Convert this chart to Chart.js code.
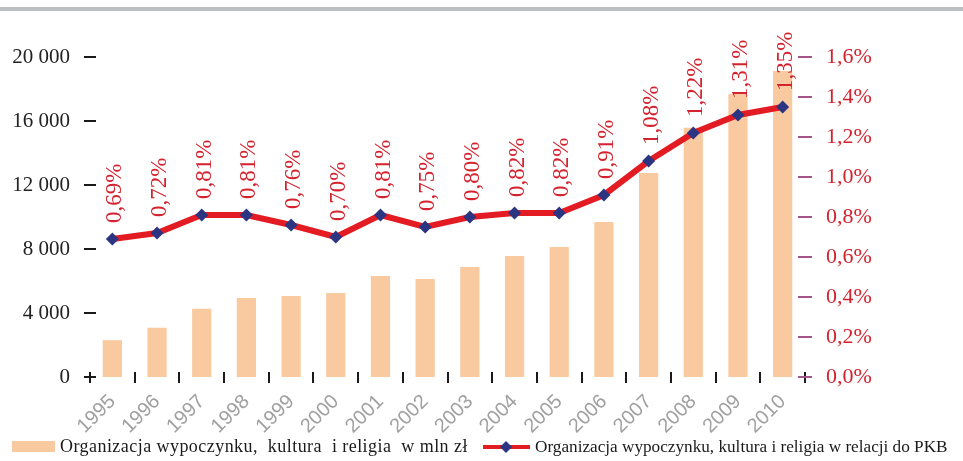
<!DOCTYPE html>
<html>
<head>
<meta charset="utf-8">
<script src="https://cdn.jsdelivr.net/npm/chart.js@4/dist/chart.umd.min.js"></script>
<style>
  html, body { margin: 0; padding: 0; background: #fff; }
</style>
</head>
<body>
<canvas id="chart" width="963" height="461"></canvas>
<script>
// Data
var years = ['1995', '1996', '1997', '1998', '1999', '2000', '2001', '2002',
             '2003', '2004', '2005', '2006', '2007', '2008', '2009', '2010'];
var amounts = [2300, 3080, 4270, 4940, 5060, 5250, 6310, 6120,
               6880, 7560, 8130, 9690, 12750, 15580, 17690, 19130];
var shares = [0.69, 0.72, 0.81, 0.81, 0.76, 0.70, 0.81, 0.75,
              0.80, 0.82, 0.82, 0.91, 1.08, 1.22, 1.31, 1.35];
var amountTicks = ['0', '4 000', '8 000', '12 000', '16 000', '20 000'];
var shareTicks = ['0,0%', '0,2%', '0,4%', '0,6%', '0,8%', '1,0%', '1,2%', '1,4%', '1,6%'];
var barLabel = 'Organizacja wypoczynku,  kultura  i religia  w mln zł';
var lineLabel = 'Organizacja wypoczynku, kultura i religia w relacji do PKB';

// Colours
var barColor = '#f9c9a0';
var lineColor = '#e31b23';
var markerColor = '#2b3582';
var textRed = '#d4222e';
var serif = '"Liberation Serif", "DejaVu Serif", serif';

function fmtShare(v) {
  return v.toFixed(2).replace('.', ',') + '%';
}

// Grey rule on top
var topRule = {
  id: 'topRule',
  beforeDraw: function(chart) {
    var ctx = chart.ctx;
    ctx.save();
    ctx.fillStyle = '#bdbec0';
    ctx.fillRect(0, 7, chart.width, 4);
    ctx.restore();
  }
};

// Cross tick marks on all three axes
var tickMarks = {
  id: 'tickMarks',
  afterDraw: function(chart) {
    var ctx = chart.ctx, area = chart.chartArea;
    var x = chart.scales.x, y = chart.scales.y, y1 = chart.scales.y1;
    function seg(x0, y0, x2, y2) {
      ctx.beginPath(); ctx.moveTo(x0, y0); ctx.lineTo(x2, y2); ctx.stroke();
    }
    ctx.save();
    ctx.lineWidth = 2;
    ctx.strokeStyle = '#1a1a1a';
    y.ticks.forEach(function(t) {
      var py = Math.round(y.getPixelForValue(t.value));
      seg(area.left - 6, py, area.left + 6, py);
    });
    var step = x.getPixelForValue(1) - x.getPixelForValue(0);
    for (var i = 0; i <= years.length; i++) {
      var px = Math.round(x.getPixelForValue(0) - step / 2 + i * step);
      seg(px, area.bottom - 5, px, area.bottom + 6);
    }
    ctx.strokeStyle = '#a4558a';
    y1.ticks.forEach(function(t) {
      var py = Math.round(y1.getPixelForValue(t.value));
      seg(area.right - 7, py, area.right + 7, py);
    });
    ctx.restore();
  }
};

// Vertical value labels above the line points
var pointLabels = {
  id: 'pointLabels',
  afterDatasetsDraw: function(chart) {
    var ctx = chart.ctx;
    var meta = chart.getDatasetMeta(0);
    ctx.save();
    ctx.fillStyle = textRed;
    ctx.font = '23px ' + serif;
    ctx.textAlign = 'left';
    ctx.textBaseline = 'middle';
    meta.data.forEach(function(pt, i) {
      ctx.save();
      ctx.translate(pt.x + 3, pt.y - 16);
      ctx.rotate(-Math.PI / 2);
      ctx.fillText(fmtShare(shares[i]), 0, 0);
      ctx.restore();
    });
    ctx.restore();
  }
};

// Legend at the bottom
var bottomLegend = {
  id: 'bottomLegend',
  afterDraw: function(chart) {
    var ctx = chart.ctx;
    var ly = 447;
    ctx.save();
    ctx.textBaseline = 'middle';
    ctx.textAlign = 'left';

    ctx.fillStyle = barColor;
    ctx.fillRect(12, ly - 6, 43, 11);
    ctx.fillStyle = '#1a1a1a';
    ctx.font = '18px ' + serif;
    ctx.letterSpacing = '0.45px';
    ctx.fillText(chart.data.datasets[1].label, 60, ly);

    ctx.strokeStyle = lineColor;
    ctx.lineWidth = 4;
    ctx.beginPath(); ctx.moveTo(483, ly); ctx.lineTo(530, ly); ctx.stroke();
    ctx.fillStyle = markerColor;
    ctx.beginPath();
    ctx.moveTo(506, ly - 6); ctx.lineTo(512, ly); ctx.lineTo(506, ly + 6); ctx.lineTo(500, ly);
    ctx.closePath(); ctx.fill();
    ctx.fillStyle = '#1a1a1a';
    ctx.font = '17.2px ' + serif;
    ctx.letterSpacing = '0px';
    ctx.fillText(chart.data.datasets[0].label, 535, ly);
    ctx.restore();
  }
};

var ctx = document.getElementById('chart').getContext('2d');
var chart = new Chart(ctx, {
  type: 'bar',
  data: {
    labels: years,
    datasets: [
      {
        type: 'line',
        label: lineLabel,
        data: shares,
        yAxisID: 'y1',
        borderColor: lineColor,
        borderWidth: 6,
        pointStyle: 'rectRot',
        pointRadius: 6.5,
        pointBackgroundColor: markerColor,
        pointBorderWidth: 0,
        tension: 0,
        order: 0
      },
      {
        type: 'bar',
        label: barLabel,
        data: amounts,
        yAxisID: 'y',
        backgroundColor: barColor,
        barPercentage: 0.43,
        categoryPercentage: 1,
        order: 1
      }
    ]
  },
  options: {
    responsive: false,
    animation: false,
    layout: { padding: { top: 57, bottom: 0, left: 0, right: 0 } },
    plugins: {
      legend: { display: false },
      tooltip: { enabled: false }
    },
    scales: {
      x: {
        offset: true,
        grid: { display: false },
        border: { display: false },
        ticks: {
          color: '#a0a0a0',
          font: { family: '"Liberation Sans", Arial, sans-serif', size: 20 },
          minRotation: 45,
          maxRotation: 45,
          padding: 5
        },
        afterFit: function(s) { s.height = 84; }
      },
      y: {
        position: 'left',
        min: 0,
        max: 20000,
        grid: { display: false },
        border: { display: false },
        ticks: {
          stepSize: 4000,
          color: '#222',
          padding: 12,
          font: { family: serif, size: 21 },
          callback: function(v) { return amountTicks[Math.round(v / 4000)]; }
        },
        afterFit: function(s) { s.width = 90; }
      },
      y1: {
        position: 'right',
        min: 0,
        max: 1.6,
        grid: { display: false },
        border: { display: false },
        ticks: {
          stepSize: 0.2,
          color: textRed,
          padding: 13,
          font: { family: serif, size: 22 },
          callback: function(v) { return shareTicks[Math.round(v / 0.2)]; }
        },
        afterFit: function(s) { s.width = 158; }
      }
    }
  },
  plugins: [topRule, tickMarks, pointLabels, bottomLegend]
});
</script>
</body>
</html>
